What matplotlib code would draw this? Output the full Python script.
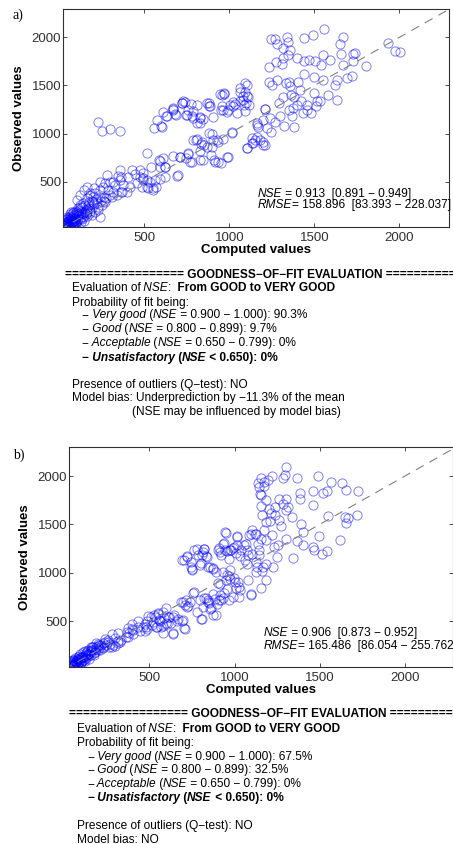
import matplotlib.pyplot as plt
import numpy as np

plt.rcParams['font.family'] = 'Liberation Sans'

# (computed, observed) pairs
pts_a = [
    (1931,1944),(1975,1861),(2004,1851),(1804,1705),(1726,1830),(1742,1840),(1730,1753),(1671,1712),
    (1720,1601),(1667,2007),(1653,1927),(1658,1823),(1555,2087),(1494,2024),(1439,1997),(1553,1816),
    (1594,1764),(1541,1712),(1506,1757),(1467,1764),(1441,1753),(1396,1781),(1498,1590),(1441,1618),
    (1353,1538),(1553,1559),(1631,1559),(1690,1576),(1620,1507),(1582,1403),(1631,1351),(1518,1334),
    (1496,1424),(1416,1451),(1402,1538),(1382,1382),(1365,1403),(1318,1382),(1333,1521),(1282,1556),
    (1235,1538),(1249,1510),(1318,1892),(1337,2000),(1347,1955),(1357,1868),(1269,1979),(1247,1979),
    (1282,1927),(1318,1788),(1274,1747),(1235,1694),(1308,1719),(1343,1816),(1357,1497),(1377,1264),
    (1349,1247),(1369,1178),(1382,1073),(1322,1083),(1434,1212),(1457,1247),(1482,1212),(1457,1299),
    (1512,1282),(1535,1334),(1422,1334),(1398,1299),(1290,1313),(1296,1178),(1239,1160),(1210,1254),
    (1269,1125),(1220,1056),(1243,1021),(1200,917),(1210,882),(1165,968),(1151,934),(1135,906),
    (1106,854),(1161,1090),(1168,1073),(1102,1507),(1063,1473),(1092,1428),(1104,1393),(1080,1386),
    (1061,1341),(1031,1306),(1004,1296),(994,1244),(1023,1330),(1092,1230),(1088,1299),(1098,1323),
    (969,1427),(947,1410),(955,1285),(951,1250),(1017,1007),(867,1316),(882,1290),(827,1170),
    (827,1108),(782,1178),(749,1195),(729,1334),(719,1316),(668,1264),(682,1205),(626,1184),
    (612,1223),(666,1240),(573,1136),(596,1080),(555,1056),(227,1125),(251,1028),(300,1045),
    (359,1028),(514,795),(802,934),(837,910),(851,882),(890,778),(915,708),(949,698),(992,760),
    (880,1004),(906,934),(935,917),(896,865),(827,823),(668,768),(708,754),(747,743),(767,708),
    (757,795),(827,722),(698,570),(586,726),(608,743),(590,656),(620,656),(541,656),(492,587),
    (492,518),(551,414),(523,431),(570,448),(620,552),(356,622),(365,552),(318,500),(280,569),
    (270,483),(241,500),(202,431),(182,386),(163,441),(143,413),(124,361),(104,309),(365,396),
    (318,396),(260,344),(592,715),(622,649),(690,563),(475,621),(445,576),(475,552),(494,535),
    (514,518),(533,500),(563,518),(592,524),(426,621),(406,552),(357,518),(347,563),(377,466),
    (328,466),(298,500),(259,448),(289,414),(239,414),(210,379),(181,362),(161,327),(200,292),
    (239,344),(269,292),(141,275),(122,240),(230,206),(190,154),(239,136),(102,188),(82,171),
    (161,188),(514,448),(553,431),(416,448),(455,483),(484,441),(396,396),(337,362),(308,344),
    (367,396),(602,1072),(632,1183),(671,1252),(686,1193),(720,1321),(739,1332),(745,1193),
    (759,1245),(773,1307),(788,1238),(808,1294),(788,1159),(812,1107),(828,1159),(847,1148),
    (881,1314),(887,1290),(906,1176),(955,1401),(971,1411),(965,1245),(985,1228),(1024,1287),
    (1044,1210),(1063,1429),(1079,1349),(1093,1522),(1112,1384),(1114,1297),(710,760),(759,788),
    (779,708),(843,726),(785,933),(808,940),(832,892),(867,864),(896,996),(930,933),(965,940),
    (1014,1020),(910,726),(935,708),(985,760),(1102,847),(1132,951),(1142,899),(1181,933),
    (1200,882),(1161,1107),(1200,1141),(1210,1252),
    (40,45),(48,60),(55,50),(62,72),(70,58),(45,80),(58,95),(75,85),(82,70),(90,100),(66,110),
    (52,120),(95,125),(105,90),(110,140),(85,150),(120,115),(130,160),(140,130),(100,175),
    (150,190),(118,205),(160,220),(135,240),(170,255),(180,200),(195,230),(205,270),(190,300),
    (150,260),(60,35),(78,42),(88,55),(35,60),(42,100),(100,60),(125,80),(145,95),(165,140),
    (180,170),(210,180),(225,240),(250,260),(245,300),(275,330),(215,320),(300,360),(32,38),
    (50,40),(70,130),
    (38,70),(44,52),(52,66),(58,44),(66,62),(72,76),(80,58),(86,90),(64,88),(50,88),(40,115),
    (74,104),(92,72),(98,82),(108,110),(60,140),(76,128),(88,118),(112,160),(96,150),(126,130),
    (128,190),(142,170),(156,210),(108,230),(122,260),(176,290),(200,340),(222,280),(262,300),
    (36,85),(46,130),(62,160),(82,190),(100,200),(70,180),(135,110),(155,160),(175,230),(55,110),
]

pts_b = [
    (1300,2097),(1296,2010),(1282,1976),(1364,1976),(1488,2003),(1566,1941),(1629,1924),(1652,1855),
    (1723,1848),(1517,1827),(1540,1848),(1462,1844),(1384,1827),(1384,1758),(1462,1699),(1550,1585),
    (1648,1578),(1668,1561),(1717,1595),(1652,1516),(1620,1343),(1543,1221),(1512,1190),(1469,1232),
    (1459,1266),(1493,1377),(1403,1291),(1368,1329),(1403,1422),(1388,1509),(1339,1578),(1345,1156),
    (1300,1353),(1253,1287),(1274,1481),(1261,1543),(1237,1595),(1214,1619),(1208,1533),(1182,1526),
    (1173,1440),(1157,1353),(1182,1336),(1217,1388),(1231,1266),(1251,1163),(1225,1059),(1186,1093),
    (1163,1014),(1124,1007),(1130,1059),(1124,1111),(1143,1180),(1104,1190),(1075,1232),(1055,1284),
    (1075,1093),(1085,1388),(1104,1440),(1124,1405),(1163,1602),(1202,1664),(1237,1675),(1261,1758),
    (1300,1761),(1284,1716),(1312,1675),(1300,1647),(1157,1689),(1157,1803),(1136,1924),(1155,1976),
    (1174,1941),(1174,1900),(1194,1959),(1145,1889),(1151,1813),(1182,1751),(1221,2000),
    (1012,1284),(992,1260),(973,1239),(944,1239),(930,1301),(905,1239),(944,1422),(915,1215),
    (1016,1370),(1032,1170),(1061,1128),(1081,920),(1028,851),(1002,903),(973,938),(954,972),
    (973,1024),(934,1007),(957,834),(992,747),(1032,817),(1094,765),(915,879),(875,782),(885,730),
    (846,696),(833,741),(797,713),(817,644),(778,592),(875,557),(807,516),(856,626),(897,671),
    (920,713),(758,789),(738,696),(719,644),(700,696),(690,1128),(723,1163),(742,1059),(752,1024),
    (778,1249),(807,1180),(821,1249),(836,1163),(846,1059),(875,1052),(797,1083),(686,696),(709,661),
    (706,1131),(719,1173),(745,1114),(750,1035),(764,1235),(784,1183),(803,1097),(823,1242),
    (833,1173),(856,1062),(872,1035),(813,1218),(911,1252),(921,1183),(940,1304),(954,1228),
    (970,1138),(979,1235),(999,1269),(1009,1200),(1015,1380),(950,1407),(1038,1235),(1067,1297),
    (1077,1183),(1097,1401),(1136,1297),(1146,1235),(1122,1401),(1165,1062),(1185,924),(1155,838),
    (1097,780),(950,924),(970,966),(999,942),(1018,907),(1009,838),(940,786),(930,735),(970,717),
    (907,717),(915,769),(1028,752),(891,562),(803,517),(852,683),(862,631),(823,735),(842,717),
    (764,804),(715,717),(725,655),(901,890),(891,1011),
    (706,424),(696,510),(666,517),(647,562),(637,379),(617,538),(588,528),(578,597),(598,631),
    (549,579),(529,562),(510,538),(490,552),(480,441),(516,459),(539,441),(569,441),(559,510),
    (598,476),(627,476),(578,372),(461,441),(432,441),(402,407),(373,424),(383,372),(363,338),
    (334,303),(314,372),(314,269),(285,251),(265,234),(246,251),(226,217),(207,251),(197,200),
    (177,165),(158,148),(138,200),(128,113),(99,131),(99,79),(70,79),(50,44),
    (484,505),(523,488),(562,505),(582,453),(543,436),(484,419),(611,540),(640,540),(660,505),
    (690,505),(709,419),(640,367),(601,471),(474,401),(445,401),(396,419),(406,367),(367,384),
    (377,332),(396,464),(318,298),(279,367),(260,280),(240,315),(230,228),(201,263),(162,228),
    (181,177),(142,159),(123,194),(104,125),(84,107),(279,228),(298,246),(328,280),(435,505),
    (474,471),(533,540),(553,574),
    (40,40),(50,55),(60,48),(68,70),(75,60),(48,75),(58,90),(80,95),(88,80),(95,110),(65,115),
    (105,130),(115,100),(120,150),(90,140),(130,170),(140,140),(150,185),(110,180),(160,200),
    (170,230),(185,210),(200,240),(35,50),(45,35),(62,35),(78,45),(100,65),(125,85),(145,110),
    (175,150),(210,200),(230,270),(255,300),(270,260),(300,320),(190,270),(55,100),(82,125),
    (42,62),(54,42),(66,54),(72,84),(84,66),(92,92),(102,80),(110,118),(118,132),(76,110),
    (62,78),(132,150),(146,160),(160,178),(172,196),(188,230),(204,222),(218,250),(240,280),
    (96,160),(40,85),(52,100),(135,190),(155,230),(112,95),
]

ticks = [500, 1000, 1500, 2000]
classes = ['Very good', 'Good', 'Acceptable', 'Unsatisfactory']
ranges = ['= 0.900 \u2212 1.000', '= 0.800 \u2212 0.899', '= 0.650 \u2212 0.799', '< 0.650']
probs_a = ['90.3%', '9.7%', '0%', '0%']
probs_b = ['67.5%', '32.5%', '0%', '0%']
nse_a = ['0.913', '0.891', '0.949']
rmse_a = ['158.896', '83.393', '228.037']
nse_b = ['0.906', '0.873', '0.952']
rmse_b = ['165.486', '86.054', '255.762']

W, H = 453, 844
fig = plt.figure(figsize=(W / 100, H / 100), dpi=100)


def scatter_panel(box, xlim, ylim, pts, ylabelpad):
    # box in pixels: left, top, right, bottom
    l, t, r, b = box
    ax = fig.add_axes([l / W, 1 - b / H, (r - l) / W, (b - t) / H])
    p = np.array(pts, dtype=float)
    ax.plot(p[:, 0], p[:, 1], 'o', mfc='none', mec=(0, 0, 1, 0.5), ms=6.6, mew=0.7)
    ax.plot([0, 2500], [0, 2500], color='#808080', lw=0.8, dashes=(8, 6))
    ax.set_xlim(xlim)
    ax.set_ylim(ylim)
    ax.set_xticks(ticks)
    ax.set_yticks(ticks)
    ax.tick_params(direction='in', length=3, width=0.6, top=True, right=True,
                   labelsize=9.5, labelcolor='#303030', color='#303030')
    ax.tick_params(axis='x', pad=3.5)
    ax.tick_params(axis='y', pad=1.5)
    for s in ax.spines.values():
        s.set_linewidth(0.8)
        s.set_color('#303030')
    ax.set_xlabel('Computed values', fontsize=9.5, fontweight='bold', labelpad=0.5)
    ax.set_ylabel('Observed values', fontsize=9.5, fontweight='bold', labelpad=ylabelpad)
    return ax


ax_a = scatter_panel((63.3, 9, 449.3, 226.7), (23.5, 2294), (32, 2295), pts_a, 4.5)
ax_b = scatter_panel((69.3, 447, 452.5, 666.7), (30.5, 2279), (27, 2301), pts_b, 5.0)

# overlay axes in pixel coordinates for all free text
tax = fig.add_axes([0, 0, 1, 1])
tax.set_xlim(0, W)
tax.set_ylim(H, 0)
tax.axis('off')
tax.set_zorder(10)


def rich(x, y, parts, size=8.6):
    prev = None
    for s, st in parts:
        kw = dict(fontsize=size,
                  fontstyle='italic' if 'i' in st else 'normal',
                  fontweight='bold' if 'b' in st else 'normal')
        if prev is None:
            prev = tax.text(x, y, s, va='baseline', ha='left', **kw)
        else:
            prev = tax.annotate(s, xy=(1, 0), xycoords=prev, va='bottom', ha='left', **kw)


def stats_text(x, y1, y2, nse, rmse):
    rich(x, y1, [('NSE', 'i'), (' = %s  [%s \u2212 %s]' % tuple(nse), '')])
    rich(x, y2, [('RMSE', 'i'), ('= %s  [%s \u2212 %s]' % tuple(rmse), '')])


def gof_block(xh, xt, xd, ys, probs, bias_lines):
    rich(xh, ys[0], [('=' * 17 + ' GOODNESS\u2212OF\u2212FIT EVALUATION ' + '=' * 20, 'b')])
    rich(xt, ys[1], [('Evaluation of', ''), (' NSE', 'i'), (':', ''),
                     ('  From GOOD to VERY GOOD', 'b')])
    rich(xt, ys[2], [('Probability of fit being:', '')])
    for k in range(4):
        st = 'b' if k == 3 else ''
        rich(xd, ys[3 + k], [('\u2212', st), (' ' + classes[k], st + 'i'), (' (', st),
                             ('NSE', st + 'i'), (' %s): %s' % (ranges[k], probs[k]), st)])
    rich(xt, ys[7], [('Presence of outliers (Q\u2212test): NO', '')])
    for (bx, by, s) in bias_lines:
        rich(bx, by, [(s, '')])


stats_text(257.7, 196.7, 208.0, nse_a, rmse_a)
stats_text(263.3, 635.7, 649.0, nse_b, rmse_b)

gof_block(65, 71.7, 81.7, [278, 291.3, 305.7, 318.3, 332.3, 345.7, 360.7, 388],
          probs_a, [(71.7, 400.7, 'Model bias: Underprediction by \u221211.3% of the mean'),
                    (131.7, 414.7, '(NSE may be influenced by model bias)')])
gof_block(69, 76.7, 87, [717.3, 732.3, 745.7, 760, 773.3, 786.7, 800.7, 829],
          probs_b, [(76.7, 843, 'Model bias: NO')])

tax.text(12.7, 19.1, 'a)', family='Liberation Serif', fontsize=10, va='baseline')
tax.text(12.7, 459, 'b)', family='Liberation Serif', fontsize=10, va='baseline')

fig.savefig('out.png', dpi=100)
